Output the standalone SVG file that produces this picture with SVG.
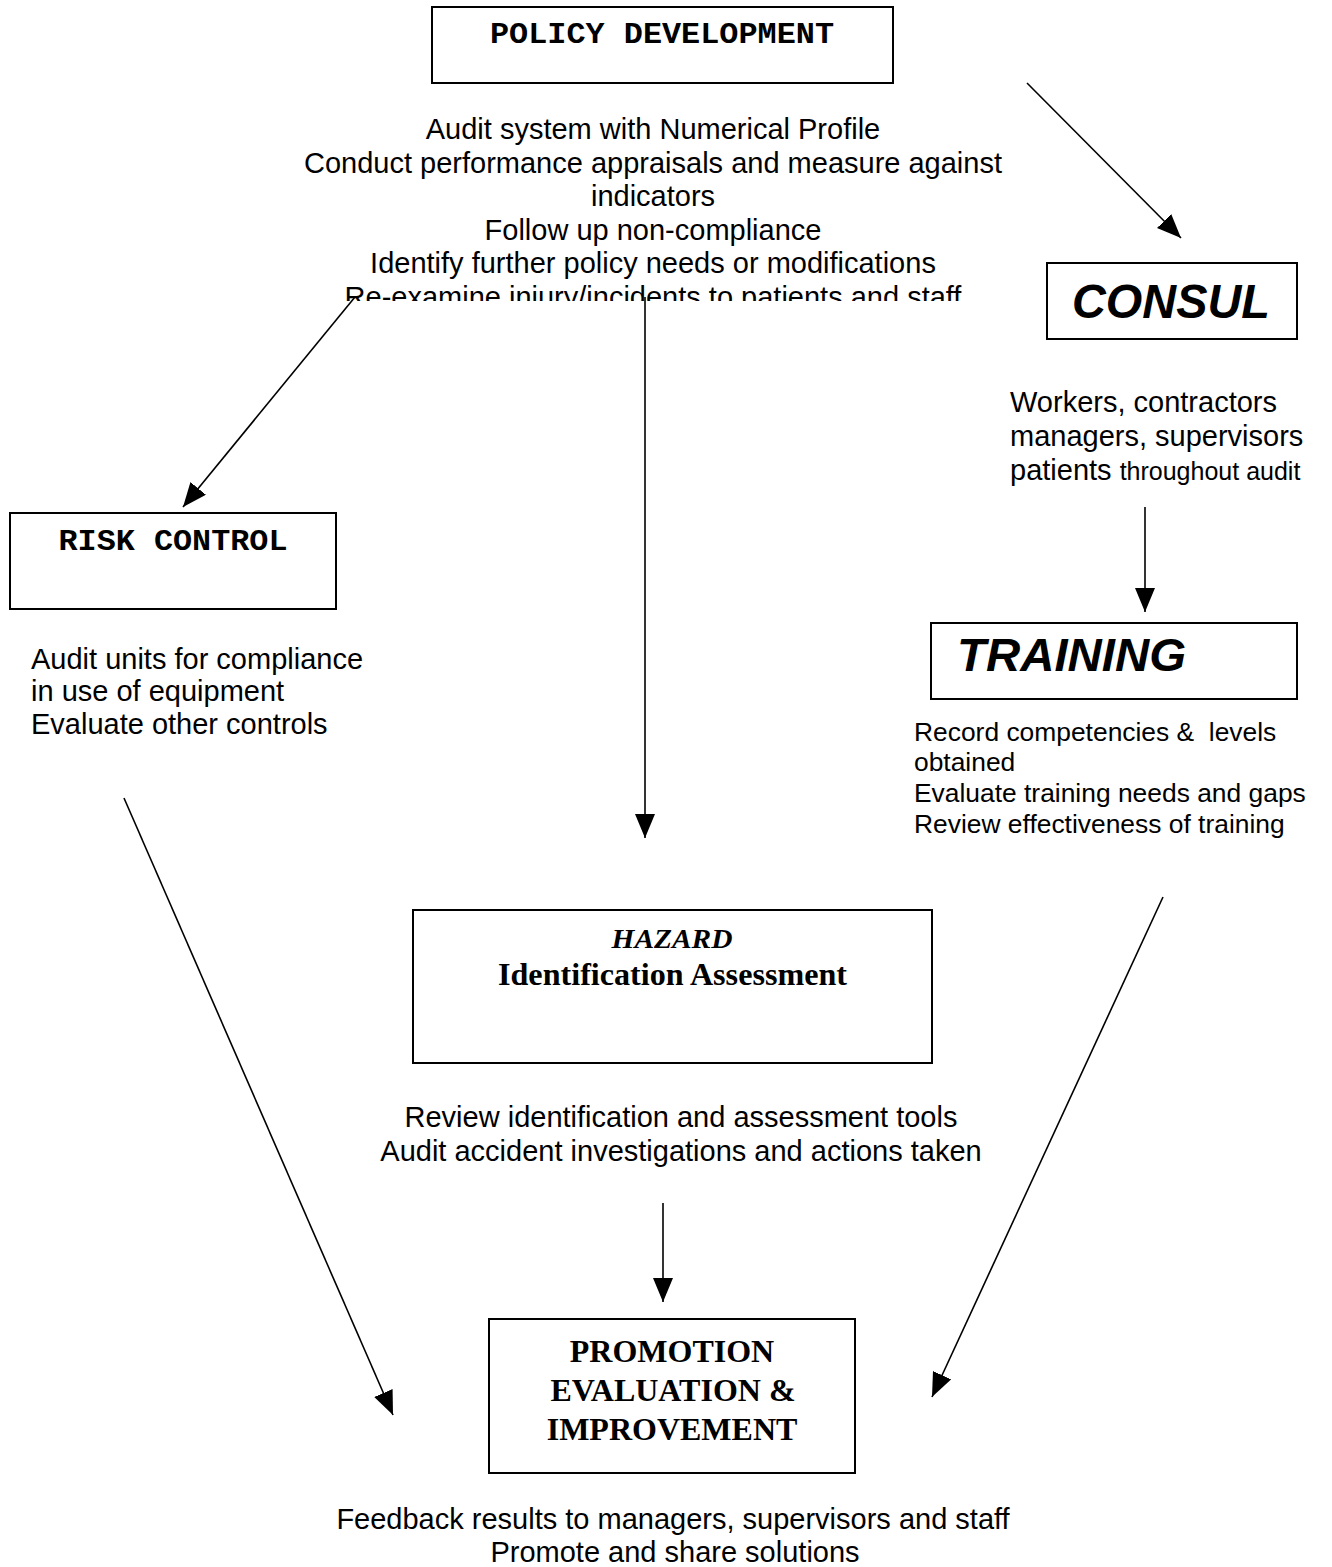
<svg xmlns="http://www.w3.org/2000/svg" width="1332" height="1567" viewBox="0 0 1332 1567">
<style>
.box{fill:#fff;stroke:#000;stroke-width:2}
.mono{font-family:"Liberation Mono","Courier New",monospace;font-weight:bold;fill:#000}
.sans{font-family:"Liberation Sans",Arial,sans-serif;fill:#000}
.serif{font-family:"Liberation Serif","Times New Roman",serif;font-weight:bold;fill:#000}
.bi{font-family:"Liberation Sans",Arial,sans-serif;font-weight:bold;font-style:italic;fill:#000}
.conn line{stroke:#000;stroke-width:1.6;fill:none}
</style>
<defs>
<marker id="ah" markerUnits="userSpaceOnUse" markerWidth="24" markerHeight="20" refX="24" refY="10" orient="auto">
<path d="M0,0 L24,10 L0,20 z" fill="#000"/>
</marker>
<clipPath id="policyClip"><rect x="0" y="80" width="1332" height="221"/></clipPath>
</defs>
<rect width="1332" height="1567" fill="#fff"/>

<g id="policy">
<rect class="box" x="432" y="7" width="461" height="76"/>
<text class="mono" x="662" y="43" font-size="30" text-anchor="middle" textLength="344" lengthAdjust="spacingAndGlyphs">POLICY DEVELOPMENT</text>
</g>
<g id="policy-notes" class="sans" font-size="29" text-anchor="middle" clip-path="url(#policyClip)">
<text x="653" y="139">Audit system with Numerical Profile</text>
<text x="653" y="172.5">Conduct performance appraisals and measure against</text>
<text x="653" y="206">indicators</text>
<text x="653" y="239.5">Follow up non-compliance</text>
<text x="653" y="273">Identify further policy needs or modifications</text>
<text x="653" y="307">Re-examine injury/incidents to patients and staff</text>
</g>

<g id="consul">
<rect class="box" x="1047" y="263" width="250" height="76"/>
<text class="bi" x="1171" y="318" font-size="48" text-anchor="middle" textLength="198" lengthAdjust="spacingAndGlyphs">CONSUL</text>
</g>
<g id="consul-notes" class="sans" font-size="29">
<text x="1010" y="412">Workers, contractors</text>
<text x="1010" y="446">managers, supervisors</text>
<text x="1010" y="480">patients <tspan font-size="25">throughout audit</tspan></text>
</g>

<g id="training">
<rect class="box" x="931" y="623" width="366" height="76"/>
<text class="bi" x="957" y="671" font-size="47" textLength="229" lengthAdjust="spacingAndGlyphs">TRAINING</text>
</g>
<g id="training-notes" class="sans" font-size="26.4">
<text x="914" y="741" xml:space="preserve">Record competencies &amp;  levels</text>
<text x="914" y="771">obtained</text>
<text x="914" y="802">Evaluate training needs and gaps</text>
<text x="914" y="833">Review effectiveness of training</text>
</g>

<g id="risk">
<rect class="box" x="10" y="513" width="326" height="96"/>
<text class="mono" x="173" y="550" font-size="30" text-anchor="middle" textLength="229" lengthAdjust="spacingAndGlyphs">RISK CONTROL</text>
</g>
<g id="risk-notes" class="sans" font-size="29">
<text x="31" y="669">Audit units for compliance</text>
<text x="31" y="701">in use of equipment</text>
<text x="31" y="734">Evaluate other controls</text>
</g>

<g id="hazard">
<rect class="box" x="413" y="910" width="519" height="153"/>
<text class="serif" x="672" y="948" font-size="27" font-style="italic" text-anchor="middle" textLength="121" lengthAdjust="spacingAndGlyphs">HAZARD</text>
<text class="serif" x="672.5" y="985" font-size="31" text-anchor="middle" textLength="349" lengthAdjust="spacingAndGlyphs">Identification Assessment</text>
</g>
<g id="hazard-notes" class="sans" font-size="29" text-anchor="middle">
<text x="681" y="1127">Review identification and assessment tools</text>
<text x="681" y="1161">Audit accident investigations and actions taken</text>
</g>

<g id="promotion">
<rect class="box" x="489" y="1319" width="366" height="154"/>
<text class="serif" x="672" y="1362" font-size="32" text-anchor="middle">PROMOTION</text>
<text class="serif" x="673" y="1401" font-size="32" text-anchor="middle">EVALUATION &amp;</text>
<text class="serif" x="672" y="1440" font-size="32" text-anchor="middle">IMPROVEMENT</text>
</g>
<g id="promotion-notes" class="sans" font-size="29" text-anchor="middle">
<text x="673" y="1529">Feedback results to managers, supervisors and staff</text>
<text x="675" y="1562">Promote and share solutions</text>
</g>

<g id="connectors" class="conn">
<line x1="1027" y1="83" x2="1181" y2="238" marker-end="url(#ah)"/>
<line x1="355" y1="297" x2="183" y2="507" marker-end="url(#ah)"/>
<line x1="645" y1="297" x2="645" y2="838" marker-end="url(#ah)"/>
<line x1="1145" y1="507" x2="1145" y2="612" marker-end="url(#ah)"/>
<line x1="124" y1="798" x2="393" y2="1415" marker-end="url(#ah)"/>
<line x1="1163" y1="897" x2="932" y2="1397" marker-end="url(#ah)"/>
<line x1="663" y1="1203" x2="663" y2="1302" marker-end="url(#ah)"/>
</g>
</svg>
